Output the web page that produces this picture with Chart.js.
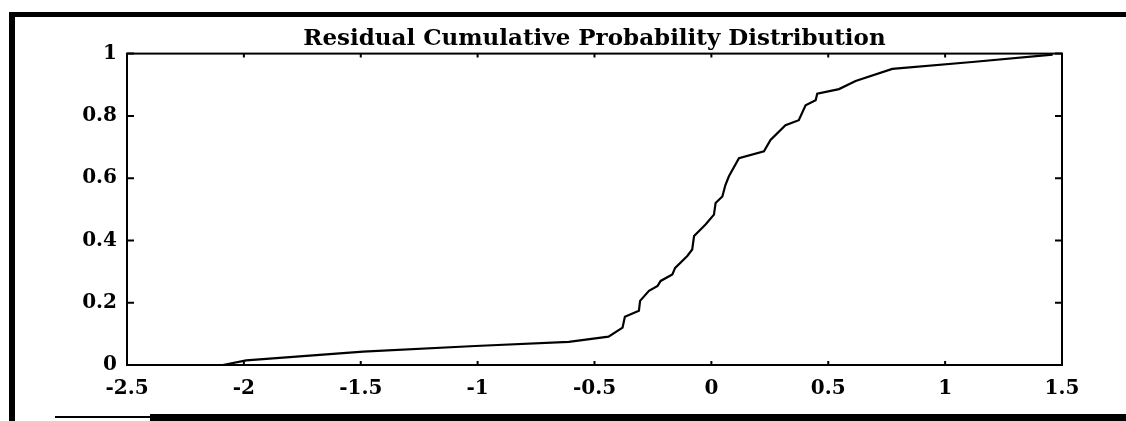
<!DOCTYPE html>
<html>
<head>
<meta charset="utf-8">
<script src="https://cdn.jsdelivr.net/npm/chart.js@4/dist/chart.umd.min.js"></script>
<style>
  html, body { margin: 0; padding: 0; background: #fff; }
  #wrap { width: 1126px; height: 421px; }
</style>
</head>
<body>
<div id="wrap"><canvas id="cdfChart" width="1126" height="421"></canvas></div>
<script>
// values
const residuals = [-2.09, -1.99, -1.49, -1.01, -0.61, -0.44, -0.38, -0.37, -0.31, -0.305,
  -0.267, -0.23, -0.217, -0.167, -0.155, -0.103, -0.082, -0.074, -0.025, 0.011,
  0.018, 0.047, 0.06, 0.075, 0.118, 0.225, 0.253, 0.317, 0.374, 0.403,
  0.446, 0.453, 0.546, 0.617, 0.774, 1.116, 1.46];
const cumProb = [0, 0.015, 0.043, 0.061, 0.074, 0.091, 0.12, 0.155, 0.174, 0.206,
  0.238, 0.254, 0.27, 0.291, 0.312, 0.35, 0.371, 0.414, 0.451, 0.483,
  0.52, 0.541, 0.578, 0.606, 0.664, 0.686, 0.723, 0.77, 0.786, 0.834,
  0.85, 0.871, 0.886, 0.912, 0.951, 0.973, 0.997];
const xTicks = [-2.5, -2, -1.5, -1, -0.5, 0, 0.5, 1, 1.5];
const yTicks = [0, 0.2, 0.4, 0.6, 0.8, 1];
const chartTitle = 'Residual Cumulative Probability Distribution';

const points = residuals.map((x, i) => ({ x: x, y: cumProb[i] }));
const tickFont = { family: 'DejaVu Serif', weight: 'bold', size: 20 };

// scanned page frame + boxed axes with inward ticks
const frameAndBox = {
  id: 'frameAndBox',
  beforeDraw(chart) {
    const ctx = chart.ctx;
    ctx.save();
    ctx.fillStyle = '#000';
    ctx.fillRect(9, 12, 1126 - 9, 5);
    ctx.fillRect(9, 12, 6, 421 - 12);
    ctx.fillRect(150, 414, 1126 - 150, 7);
    ctx.fillRect(55, 416, 100, 2);
    ctx.restore();
  },
  afterDraw(chart) {
    const ctx = chart.ctx;
    const a = chart.chartArea;
    const xs = chart.scales.x, ys = chart.scales.y;
    ctx.save();
    ctx.strokeStyle = '#000';
    ctx.lineWidth = 2;
    ctx.strokeRect(a.left, a.top, a.right - a.left, a.bottom - a.top);
    ctx.beginPath();
    xTicks.forEach(v => {
      const px = xs.getPixelForValue(v);
      ctx.moveTo(px, a.bottom); ctx.lineTo(px, a.bottom - 4);
      ctx.moveTo(px, a.top); ctx.lineTo(px, a.top + 4);
    });
    yTicks.forEach(v => {
      const py = ys.getPixelForValue(v);
      ctx.moveTo(a.left, py); ctx.lineTo(a.left + 7, py);
      ctx.moveTo(a.right, py); ctx.lineTo(a.right - 7, py);
    });
    ctx.stroke();
    ctx.restore();
  }
};

new Chart(document.getElementById('cdfChart'), {
  type: 'line',
  data: {
    datasets: [{
      data: points,
      borderColor: '#000',
      borderWidth: 2.2,
      pointRadius: 0,
      tension: 0,
      fill: false
    }]
  },
  options: {
    responsive: false,
    animation: false,
    layout: { padding: { left: 0, right: 64, top: 25, bottom: 0 } },
    plugins: {
      legend: { display: false },
      tooltip: { enabled: false },
      title: {
        display: true,
        text: chartTitle,
        fullSize: false,
        color: '#000',
        font: { family: 'DejaVu Serif', weight: 'bold', size: 23 },
        padding: { top: 0, bottom: 1 }
      }
    },
    scales: {
      x: {
        type: 'linear',
        min: -2.5,
        max: 1.5,
        grid: { display: false, drawTicks: false },
        border: { display: false },
        afterBuildTicks: s => { s.ticks = xTicks.map(v => ({ value: v })); },
        afterFit: s => { s.height = 421 - 365; },
        ticks: {
          color: '#000',
          font: tickFont,
          padding: 12,
          maxRotation: 0,
          autoSkip: false,
          callback: v => String(v)
        }
      },
      y: {
        min: 0,
        max: 1,
        grid: { display: false, drawTicks: false },
        border: { display: false },
        afterBuildTicks: s => { s.ticks = yTicks.map(v => ({ value: v })); },
        afterFit: s => { s.width = 127; },
        ticks: {
          color: '#000',
          font: tickFont,
          padding: 10,
          autoSkip: false,
          callback: v => String(v)
        }
      }
    }
  },
  plugins: [frameAndBox]
});
</script>
</body>
</html>
